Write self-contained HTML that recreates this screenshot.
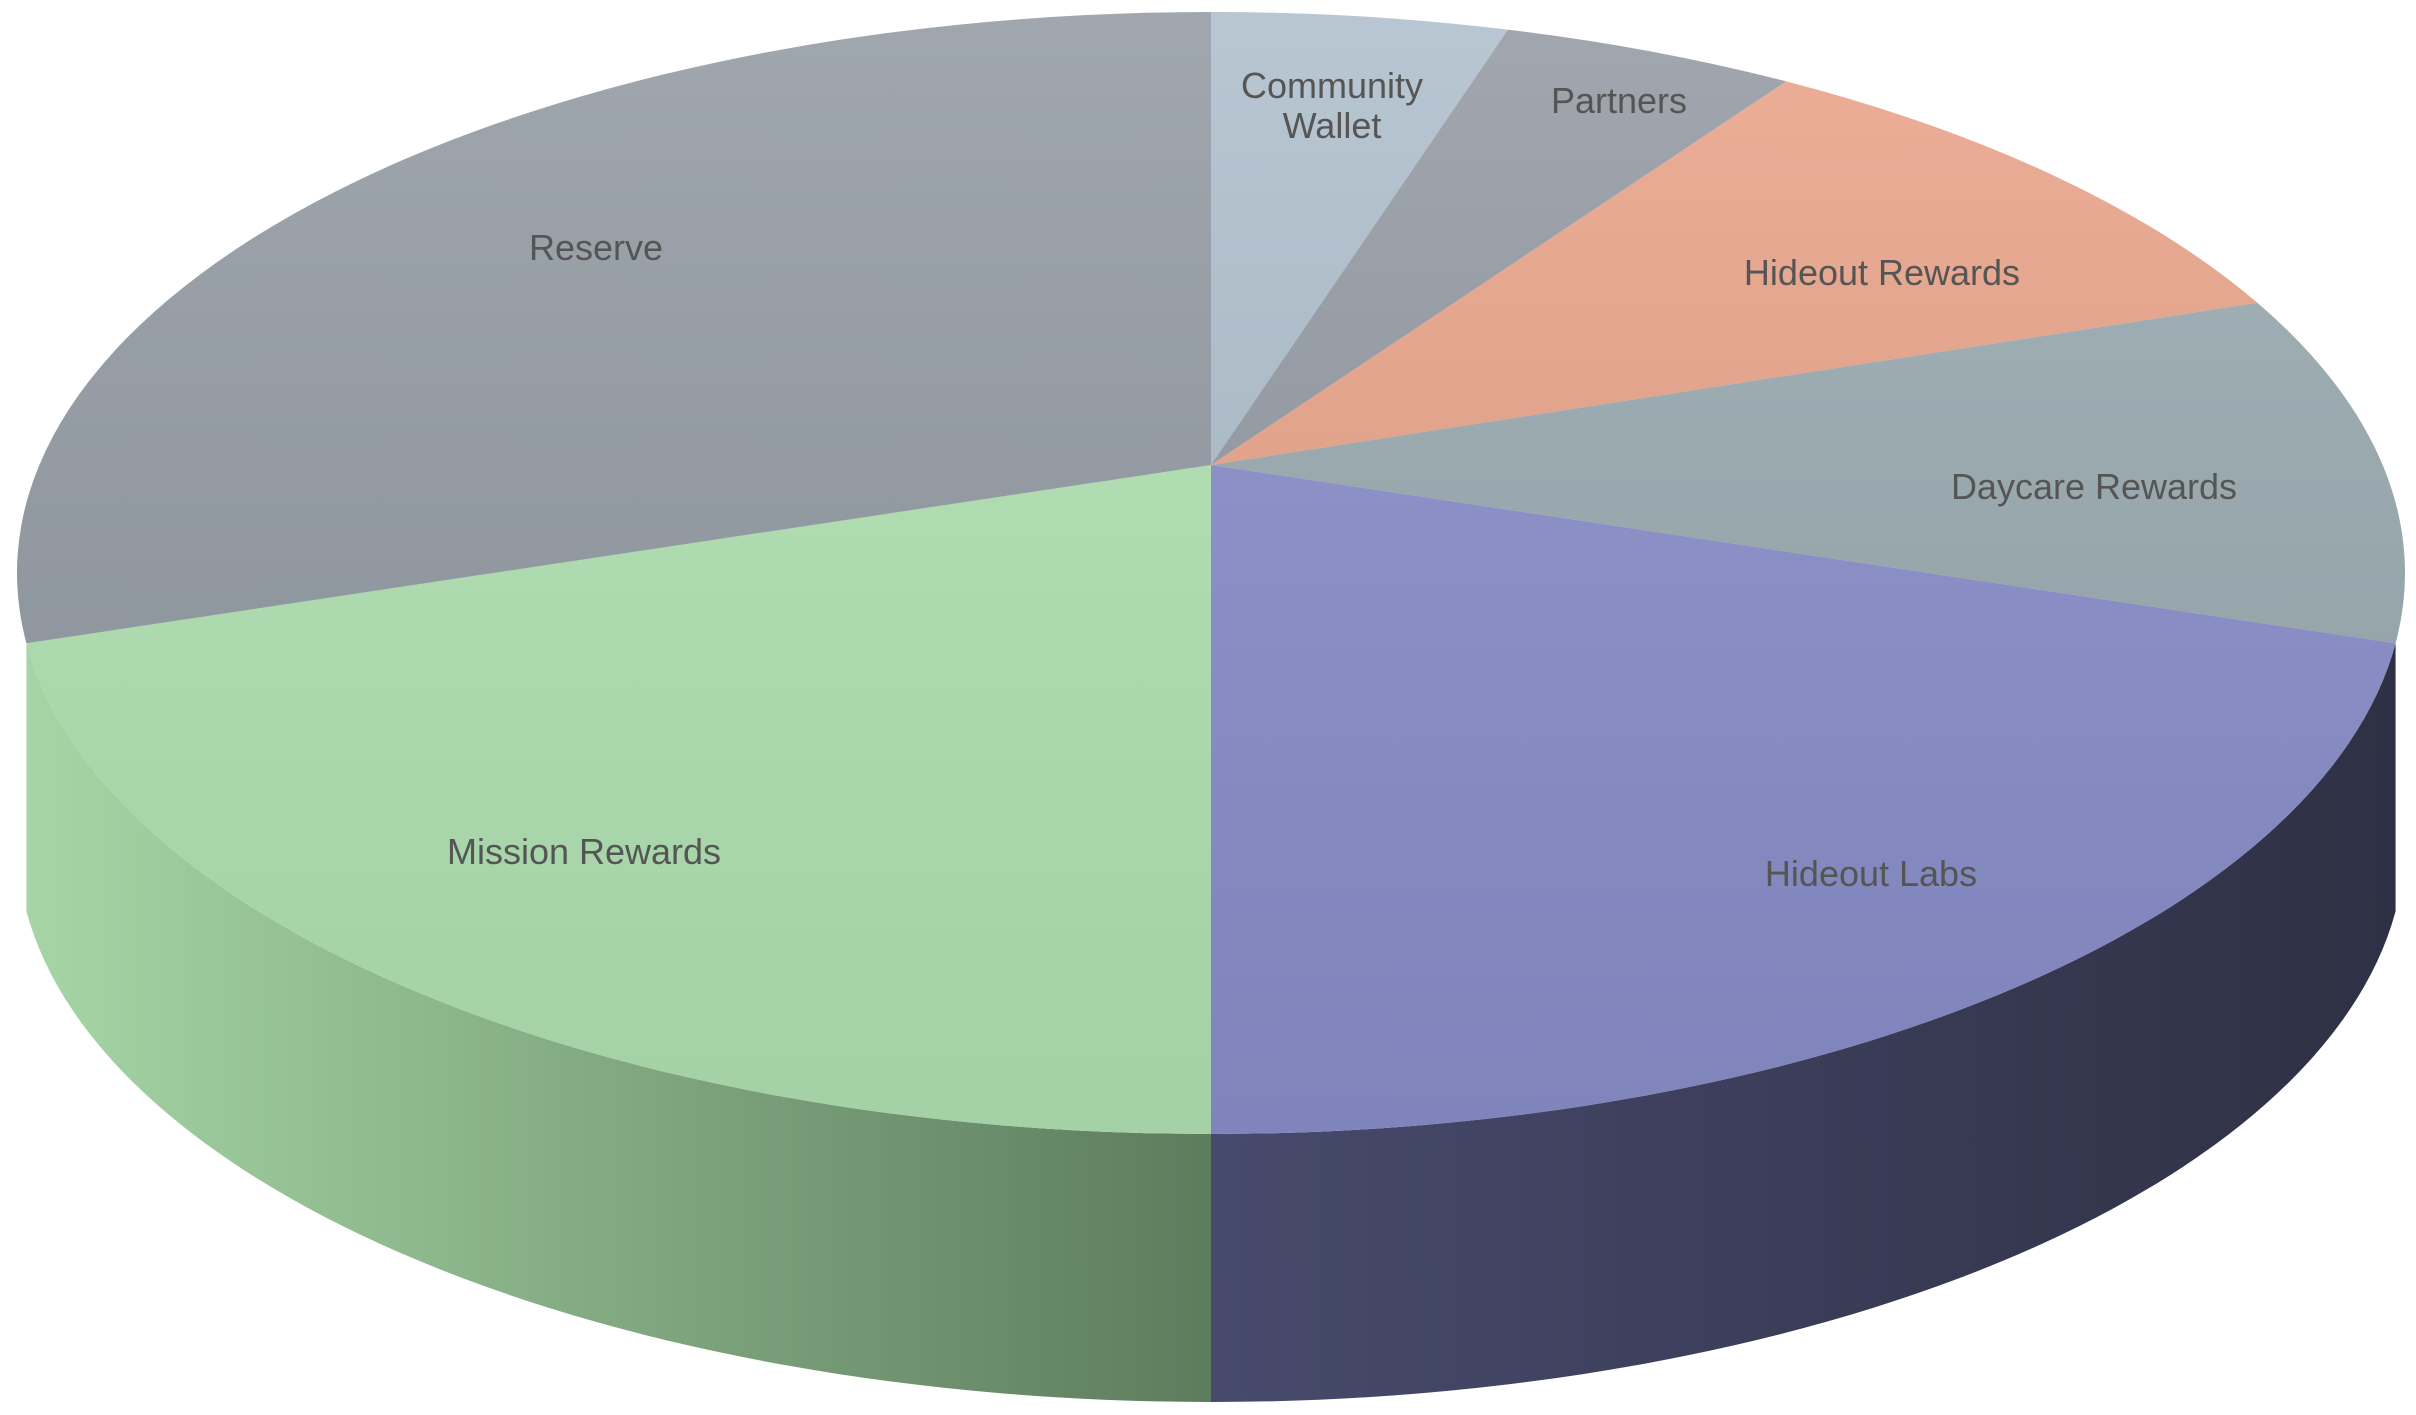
<!DOCTYPE html>
<html><head><meta charset="utf-8"><style>
html,body{margin:0;padding:0;background:#fff;width:2416px;height:1415px;overflow:hidden}
svg text{font-family:"Liberation Sans",sans-serif;font-size:36px;fill:#555;text-anchor:middle}
</style></head><body>
<svg id="chart" width="2416" height="1415" viewBox="0 0 2416 1415" xmlns="http://www.w3.org/2000/svg">
<defs>
<linearGradient id="gTop" x1="0" y1="12" x2="0" y2="1134" gradientUnits="userSpaceOnUse"><stop offset="0" stop-color="#fff" stop-opacity="0.12"/><stop offset="1" stop-color="#000" stop-opacity="0.08"/></linearGradient>
<linearGradient id="sLabs" x1="1211" y1="0" x2="2405" y2="0" gradientUnits="userSpaceOnUse"><stop offset="0" stop-color="#474a6c"/><stop offset="1" stop-color="#2e3044"/></linearGradient>
<linearGradient id="sMission" x1="17" y1="0" x2="1211" y2="0" gradientUnits="userSpaceOnUse"><stop offset="0" stop-color="#a6d6a6"/><stop offset="1" stop-color="#5d7c5d"/></linearGradient>
</defs>
<g id="sides"></g><g id="tops"></g><g id="labels"></g>
</svg>
<script>
const categories=["Community Wallet","Partners","Hideout Rewards","Daycare Rewards","Hideout Labs","Mission Rewards","Reserve"];
const values=[4,4,9,10,23,23,27];
const topColors=["#aebfcc","#959ba4","#eaa48a","#9aabb1","#8a90cc","#b2e4b4","#939ba3"];
const sideColors=["#7d8b96","#6b7079","#a87564",null,"url(#sLabs)","url(#sMission)",null];
const labelPos=[[1332,98,1332,138],[1619,113],[1882,285],[2094,499],[1871,886],[584,864],[596,260]];
const cx=1211,cy=573,rx=1194,ry=561,ax=1211,ay=465,depth=268;
const NS="http://www.w3.org/2000/svg";
const total=values.reduce((a,b)=>a+b,0);
function pt(t,d){const r=t*Math.PI/180;return [cx+rx*Math.cos(r),cy+ry*Math.sin(r)+(d||0)];}
const sides=document.getElementById('sides'),tops=document.getElementById('tops'),labels=document.getElementById('labels');
let t=-90;
values.forEach((v,i)=>{
  const t1=t,t2=t+v/total*360;t=t2;
  const a=Math.max(t1,0),b=Math.min(t2,180);
  if(a<b && sideColors[i]){
    const p1=pt(a),p2=pt(b),p3=pt(b,depth),p4=pt(a,depth);
    const s=document.createElementNS(NS,'path');
    s.setAttribute('d',`M${p1}A${rx} ${ry} 0 0 1 ${p2}L${p3}A${rx} ${ry} 0 0 0 ${p4}Z`);
    s.setAttribute('fill',sideColors[i]);
    
    
    sides.appendChild(s);
  }
  const q1=pt(t1),q2=pt(t2);
  const large=(t2-t1)>180?1:0;
  const p=document.createElementNS(NS,'path');
  p.setAttribute('d',`M${ax},${ay}L${q1}A${rx} ${ry} 0 ${large} 1 ${q2}Z`);
  p.setAttribute('fill',topColors[i]);
  
  
  tops.appendChild(p);
  const lp=labelPos[i];
  const tx=document.createElementNS(NS,'text');
  
  
  if(lp.length>2){
    const w=categories[i].split(' ');
    const a1=document.createElementNS(NS,'tspan');a1.setAttribute('x',lp[0]);a1.setAttribute('y',lp[1]);a1.textContent=w[0];
    const a2=document.createElementNS(NS,'tspan');a2.setAttribute('x',lp[2]);a2.setAttribute('y',lp[3]);a2.textContent=w[1];
    tx.appendChild(a1);tx.appendChild(a2);
  } else {tx.setAttribute('x',lp[0]);tx.setAttribute('y',lp[1]);tx.textContent=categories[i];}
  labels.appendChild(tx);
});
const ov=document.createElementNS(NS,'ellipse');
ov.setAttribute('cx',cx);ov.setAttribute('cy',cy);ov.setAttribute('rx',rx);ov.setAttribute('ry',ry);
ov.setAttribute('fill','url(#gTop)');ov.setAttribute('pointer-events','none');


tops.appendChild(ov);
</script>
</body></html>
